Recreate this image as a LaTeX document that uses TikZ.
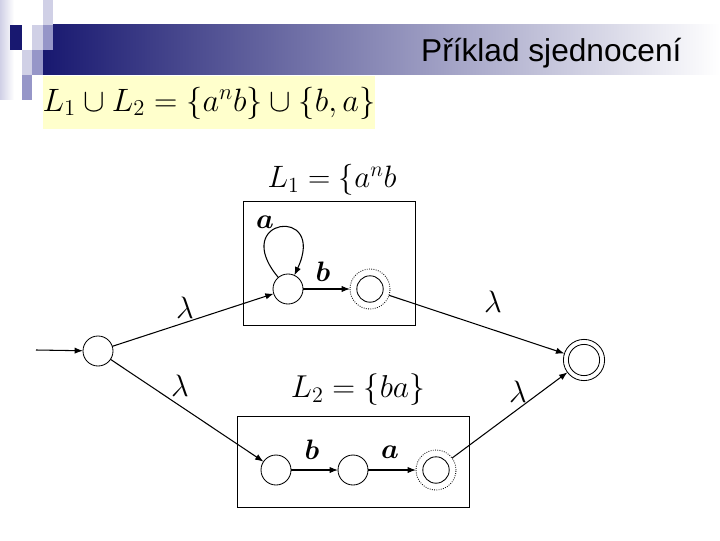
\RequirePackage{fix-cm}
\documentclass[tikz,border=0pt]{standalone}
\usepackage{fontspec}
\newfontfamily\titlefont{Liberation Sans}
\usetikzlibrary{arrows.meta}
\definecolor{navy}{RGB}{24,24,112}
\definecolor{lightlav}{RGB}{208,208,230}
\definecolor{midlav}{RGB}{150,150,200}
\definecolor{paleyellow}{RGB}{255,255,204}
\begin{document}
\begin{tikzpicture}[x=0.025cm, y=0.025cm, line width=0.75pt, >={Latex[length=6pt,width=4.5pt]},
    state/.style={circle, draw, line width=0.6pt, minimum size=0.75cm, inner sep=0, outer sep=0},
    dotfinal/.style={circle, draw, line width=0.6pt, densely dotted, minimum size=1cm, inner sep=0, outer sep=0,
        path picture={\draw[solid] (path picture bounding box.center) circle[radius=0.33cm];}},
    final/.style={circle, draw, line width=0.6pt, minimum size=1.03cm, inner sep=0, outer sep=0,
        path picture={\draw[solid] (path picture bounding box.center) circle[radius=0.39cm];}},
    sym/.style={inner sep=0, font=\fontsize{20}{20}\selectfont\boldmath},
    lam/.style={inner sep=0, font=\fontsize{22}{22}\selectfont}]
        \useasboundingbox (0,0) rectangle (720,540);
%%% Start header band
        \shade[left color=lightlav, right color=white] (0,440) rectangle (14,540);
        \shade[left color=navy, right color=white] (43,465) rectangle (720,515);
        \fill[navy] (10,490) rectangle (22,515);
        \fill[lightlav] (32,490) rectangle (43,515);
        \fill[lightlav] (43,515) rectangle (53,540);
        \fill[midlav] (43,490) rectangle (53,515);
        \fill[lightlav] (22,465) rectangle (32,490);
        \fill[midlav] (32,465) rectangle (43,490);
        \fill[midlav] (22,440) rectangle (32,465);
        \draw (682,478) node[anchor=base east, inner sep=0, font=\titlefont\fontsize{22.5}{27}\selectfont] (title) {Příklad sjednocení};
%%% End header band
%%% Start union formula
        \draw (42,410) node[anchor=south west, fill=paleyellow, inner sep=0, minimum width=8.25cm, minimum height=1.325cm, font=\fontsize{23}{23}\selectfont] (union) {$L_1 \cup L_2 = \{a^n b\} \cup \{b,a\}$};
%%% End union formula
%%% Start automaton L1
        \draw (332,360) node[inner sep=0, font=\fontsize{22}{22}\selectfont] (lone) {$L_1 = \{a^n b$};
        \draw (243,215) node[anchor=south west, draw, line width=0.6pt, inner sep=0, outer sep=0, minimum width=4.3cm, minimum height=3.1cm] (boxone) {};
        \node[state] (p1) at (288,251) {};
        \node[dotfinal] (p2) at (370,251) {};
        \draw[->] (p1) -- (p2);
        \draw[->] (p1) to[out=130, in=65, min distance=1.95cm] (p1);
        \draw (265,318) node[sym] (la) {$a$};
        \draw (323,268) node[sym] (lb) {$b$};
%%% End automaton L1
%%% Start automaton L2
        \draw (358,150) node[inner sep=0, font=\fontsize{22.5}{22.5}\selectfont] (ltwo) {$L_2 = \{ba\}$};
        \draw (237,33) node[anchor=south west, draw, line width=0.6pt, inner sep=0, outer sep=0, minimum width=5.8cm, minimum height=2.275cm] (boxtwo) {};
        \node[state] (r1) at (276,70) {};
        \node[state] (r2) at (353,70) {};
        \node[dotfinal] (r3) at (436,70) {};
        \draw[->] (r1) -- (r2);
        \draw[->] (r2) -- (r3);
        \draw (312,90) node[sym] (rb) {$b$};
        \draw (390,88) node[sym] (ra) {$a$};
%%% End automaton L2
%%% Start union automaton
        \coordinate (in) at (36,190);
        \node[state] (q0) at (98,189) {};
        \node[final] (F) at (584,180) {};
        \draw[->] (in) -- (q0);
        \draw[->] (q0) -- (p1);
        \draw[->] (q0) -- (r1);
        \draw[->] (p2) -- (F);
        \draw[->] (r3) -- (F);
        \draw (185,232) node[lam] (lam1) {$\lambda$};
        \draw (180,154) node[lam] (lam2) {$\lambda$};
        \draw (493,238) node[lam] (lam3) {$\lambda$};
        \draw (518,148) node[lam] (lam4) {$\lambda$};
%%% End union automaton
\end{tikzpicture}
\end{document}
